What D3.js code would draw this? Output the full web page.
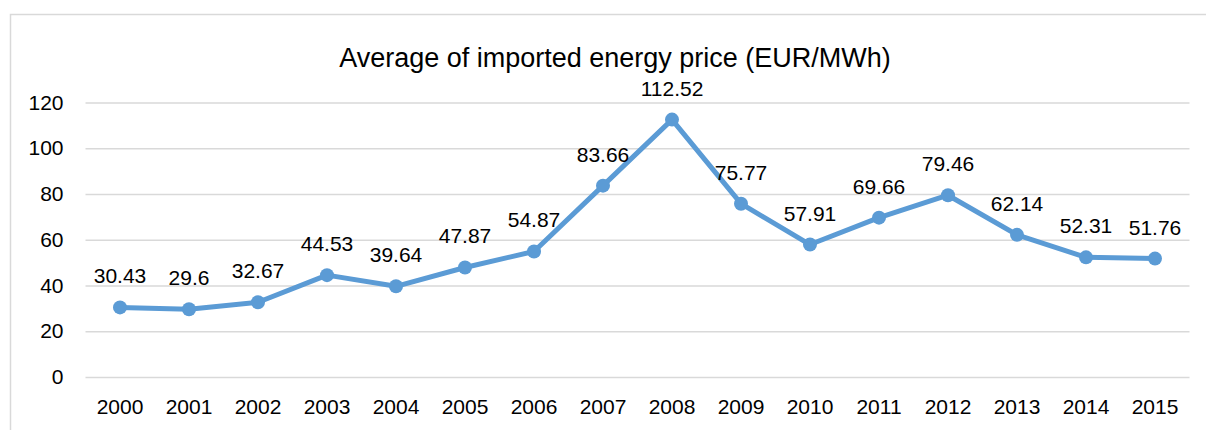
<!DOCTYPE html>
<html><head><meta charset="utf-8">
<script src="https://cdn.jsdelivr.net/npm/d3@7"></script>
<style>body{margin:0;background:#fff}svg{display:block}</style>
</head><body>
<svg id="c" width="1206" height="430"></svg>
<script>
const years = ["2000","2001","2002","2003","2004","2005","2006","2007","2008","2009","2010","2011","2012","2013","2014","2015"];
const prices = [30.43,29.6,32.67,44.53,39.64,47.87,54.87,83.66,112.52,75.77,57.91,69.66,79.46,62.14,52.31,51.76];
const yTicks = [0,20,40,60,80,100,120];
const title = "Average of imported energy price (EUR/MWh)";

const svg = d3.select("#c");
const font = "Liberation Sans, Arial, sans-serif";
// chart frame
svg.append("path").attr("d","M10.5,430 L10.5,14.5 L1206,14.5").attr("fill","none").attr("stroke","#d9d9d9").attr("stroke-width",1.5);

const x = d3.scaleBand().domain(years).range([85.5,1189.5]);
const y = d3.scaleLinear().domain([0,120]).range([377,102.5]);

const gy = svg.append("g").attr("transform","translate(85.5,0)")
  .call(d3.axisLeft(y).tickValues(yTicks).tickSize(-1104).tickPadding(22));
gy.select(".domain").remove();
gy.selectAll(".tick line").attr("stroke","#d9d9d9").attr("stroke-width",1.5);
gy.selectAll(".tick text").attr("font-family",font).attr("font-size",21).attr("fill","#000");

const gx = svg.append("g").attr("transform","translate(0,377)")
  .call(d3.axisBottom(x).tickSize(0).tickPadding(22));
gx.select(".domain").remove();
gx.selectAll(".tick text").attr("font-family",font).attr("font-size",21).attr("fill","#000").attr("dy","0.71em");

const cx = d => x(d) + x.bandwidth()/2;
const line = d3.line().x((d,i)=>cx(years[i])).y(d=>y(d));
svg.append("path").datum(prices).attr("d",line).attr("fill","none")
  .attr("stroke","#5b9bd5").attr("stroke-width",5).attr("stroke-linejoin","round");
svg.selectAll("circle.p").data(prices).join("circle").attr("class","p")
  .attr("cx",(d,i)=>cx(years[i])).attr("cy",d=>y(d)).attr("r",7).attr("fill","#5b9bd5");
svg.selectAll("text.l").data(prices).join("text").attr("class","l")
  .attr("x",(d,i)=>cx(years[i])).attr("y",d=>y(d)-24)
  .attr("text-anchor","middle").attr("font-family",font).attr("font-size",21).attr("fill","#000")
  .text(d=>String(d));

svg.append("text").attr("x",615).attr("y",67).attr("text-anchor","middle")
  .attr("font-family",font).attr("font-size",27).attr("fill","#000").text(title);
</script>
</body></html>
